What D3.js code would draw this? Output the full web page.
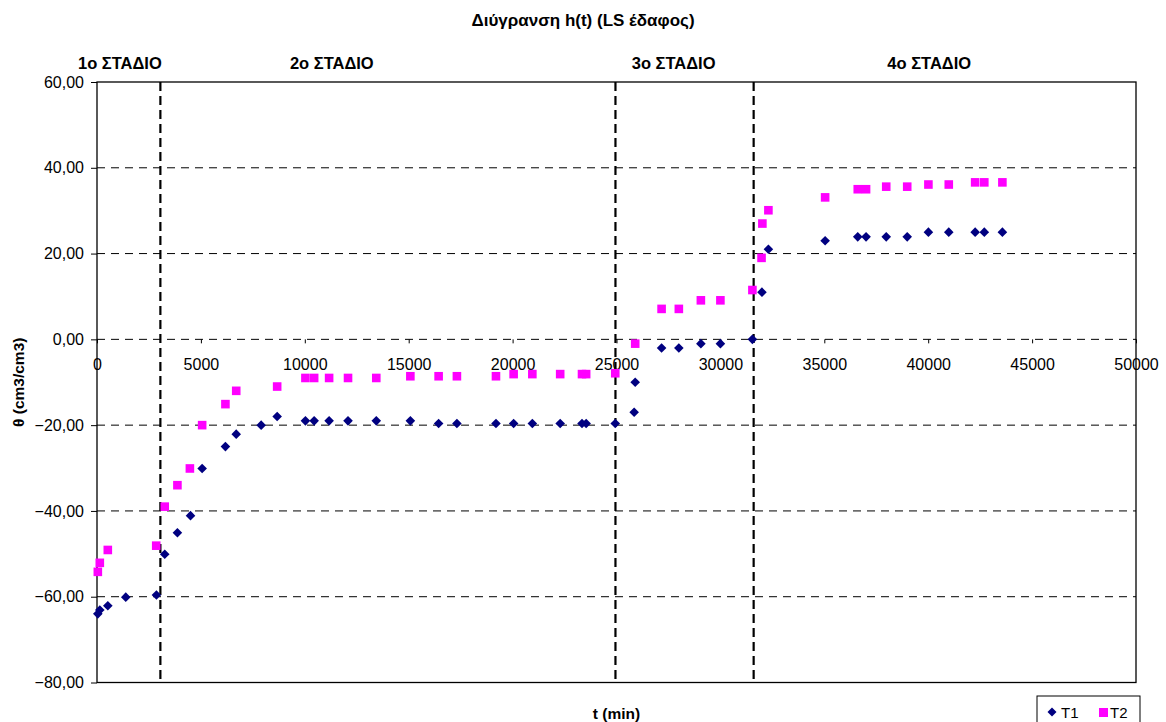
<!DOCTYPE html>
<html><head><meta charset="utf-8">
<script src="https://cdn.jsdelivr.net/npm/d3@7"></script>
<style>body{margin:0;background:#fff}svg{display:block}text{font-family:"Liberation Sans",Arial,sans-serif}</style>
</head><body>
<svg id="chart" width="1166" height="722"></svg>
<script>
const title = "Διύγρανση h(t) (LS έδαφος)";
const xTicks = [0,5000,10000,15000,20000,25000,30000,35000,40000,45000,50000];
const yTicks = [-80,-60,-40,-20,0,20,40,60];
const stageLines = [3050, 24950, 31600];
const stageLabels = ["1ο ΣΤΑΔΙΟ","2ο ΣΤΑΔΙΟ","3ο ΣΤΑΔΙΟ","4ο ΣΤΑΔΙΟ"];
const stageLabelX = [1100, 11300, 27750, 40050];

const t1x = [40,135,520,1385,2860,3260,3870,4500,5060,6180,6700,7900,8670,10030,10450,11170,12080,13440,15080,16440,17320,19200,20050,20950,22290,23340,23540,24940,25850,25900,27170,28000,29060,30000,31540,32000,32310,35040,36610,37010,37980,38990,40010,40990,42260,42700,43570];
const t1y = [-64.0,-63.1,-62.1,-60.1,-59.6,-50.1,-45.1,-41.1,-30.1,-25.0,-22.1,-20.0,-18.0,-19.0,-19.0,-19.0,-19.0,-19.0,-19.0,-19.6,-19.6,-19.6,-19.6,-19.6,-19.6,-19.6,-19.6,-19.6,-17.0,-10.0,-2.0,-2.0,-1.0,-1.0,0.0,11.0,21.0,23.0,23.9,23.9,23.9,23.9,25.0,25.0,25.0,25.0,25.0];

const t2x = [40,135,520,2850,3260,3870,4470,5060,6180,6700,8670,10030,10450,11170,12080,13440,15080,16440,17320,19200,20050,20950,22290,23340,23540,24940,25900,27170,28000,29060,30000,31540,31980,32020,32310,35040,36610,37010,37980,38990,40010,40990,42260,42700,43570];
const t2y = [-54.2,-52.1,-49.1,-48.1,-39.0,-34.0,-30.1,-20.0,-15.1,-12.0,-11.0,-9.0,-9.0,-9.0,-9.0,-9.0,-8.6,-8.6,-8.6,-8.6,-8.1,-8.1,-8.1,-8.1,-8.1,-7.9,-1.0,7.1,7.1,9.1,9.1,11.5,19.0,27.0,30.1,33.1,35.0,35.0,35.6,35.6,36.1,36.1,36.6,36.6,36.6];

const svg = d3.select("#chart");
const L = 97, R = 1136, T = 82, B = 682.5;
const x = d3.scaleLinear().domain([0,50000]).range([L,R]);
const y = d3.scaleLinear().domain([-80,60]).range([B,T]);
const fmtY = v => d3.format(".2f")(v).replace(".", ",");
const FF = "Liberation Sans, Arial, sans-serif";

// title
svg.append("text").attr("x",583).attr("y",26).attr("text-anchor","middle")
  .style("font-size","17px").attr("font-weight","bold").text(title);

// gridlines
svg.append("g").selectAll("line").data(yTicks.filter(v=>v>-80 && v<60)).join("line")
  .attr("x1",L).attr("x2",R).attr("y1",d=>y(d)).attr("y2",d=>y(d))
  .attr("stroke","#000").attr("stroke-width",1).attr("stroke-dasharray","8,6");

// plot border
svg.append("rect").attr("x",L).attr("y",T).attr("width",R-L).attr("height",B-T)
  .attr("fill","none").attr("stroke","#000").attr("stroke-width",1.3);

// y axis
const yAxis = svg.append("g").attr("transform",`translate(${L},0)`)
  .call(d3.axisLeft(y).tickValues(yTicks).tickFormat(fmtY).tickSize(6).tickPadding(7));
yAxis.select(".domain").remove();
yAxis.selectAll("text").attr("font-size",16).attr("font-family",FF).attr("fill","#000");
yAxis.selectAll("line").attr("stroke","#000");

// x axis at y=0
const xAxis = svg.append("g").attr("transform",`translate(0,${y(0)})`)
  .call(d3.axisBottom(x).tickValues(xTicks).tickFormat(d3.format("d")).tickSize(4).tickPadding(15));
xAxis.select(".domain").remove();
xAxis.selectAll("text").attr("font-size",16).attr("font-family",FF).attr("fill","#000");
xAxis.selectAll("line").attr("stroke","#000");

// stage lines
svg.append("g").selectAll("line").data(stageLines).join("line")
  .attr("x1",d=>x(d)).attr("x2",d=>x(d)).attr("y1",T).attr("y2",B)
  .attr("stroke","#000").attr("stroke-width",2.2).attr("stroke-dasharray","9,5");

// stage labels
svg.append("g").selectAll("text").data(stageLabels).join("text")
  .attr("x",(d,i)=>x(stageLabelX[i])).attr("y",69).attr("text-anchor","middle")
  .attr("font-size",16.5).attr("font-weight","bold").text(d=>d);

// axis titles
svg.append("text").attr("transform",`translate(24,${(T+B)/2}) rotate(-90)`)
  .attr("text-anchor","middle").attr("font-size",15.5).attr("font-weight","bold").text("θ (cm3/cm3)");
svg.append("text").attr("x",(L+R)/2).attr("y",719).attr("text-anchor","middle")
  .attr("font-size",15.5).attr("font-weight","bold").text("t (min)");

// series
const d1 = t1x.map((v,i)=>({x:v,y:t1y[i]}));
const d2 = t2x.map((v,i)=>({x:v,y:t2y[i]}));
const diamond = "M0,-4.8L4.8,0L0,4.8L-4.8,0Z";
svg.append("g").selectAll("rect").data(d2).join("rect")
  .attr("x",d=>x(d.x)-4.3).attr("y",d=>y(d.y)-4.3).attr("width",8.6).attr("height",8.6)
  .attr("fill","#FF00FF");
svg.append("g").selectAll("path").data(d1).join("path")
  .attr("transform",d=>`translate(${x(d.x)},${y(d.y)})`).attr("d",diamond).attr("fill","#000080");

// legend
const lg = svg.append("g");
lg.append("rect").attr("x",1037).attr("y",696).attr("width",103).attr("height",30)
  .attr("fill","#fff").attr("stroke","#000").attr("stroke-width",1);
lg.append("path").attr("transform","translate(1052,712)").attr("d","M0,-4.5L4.5,0L0,4.5L-4.5,0Z").attr("fill","#000080");
lg.append("text").attr("x",1061).attr("y",718).attr("font-size",15).text("T1");
lg.append("rect").attr("x",1099).attr("y",708).attr("width",9).attr("height",9).attr("fill","#FF00FF");
lg.append("text").attr("x",1110).attr("y",718).attr("font-size",15).text("T2");
</script>
</body></html>
